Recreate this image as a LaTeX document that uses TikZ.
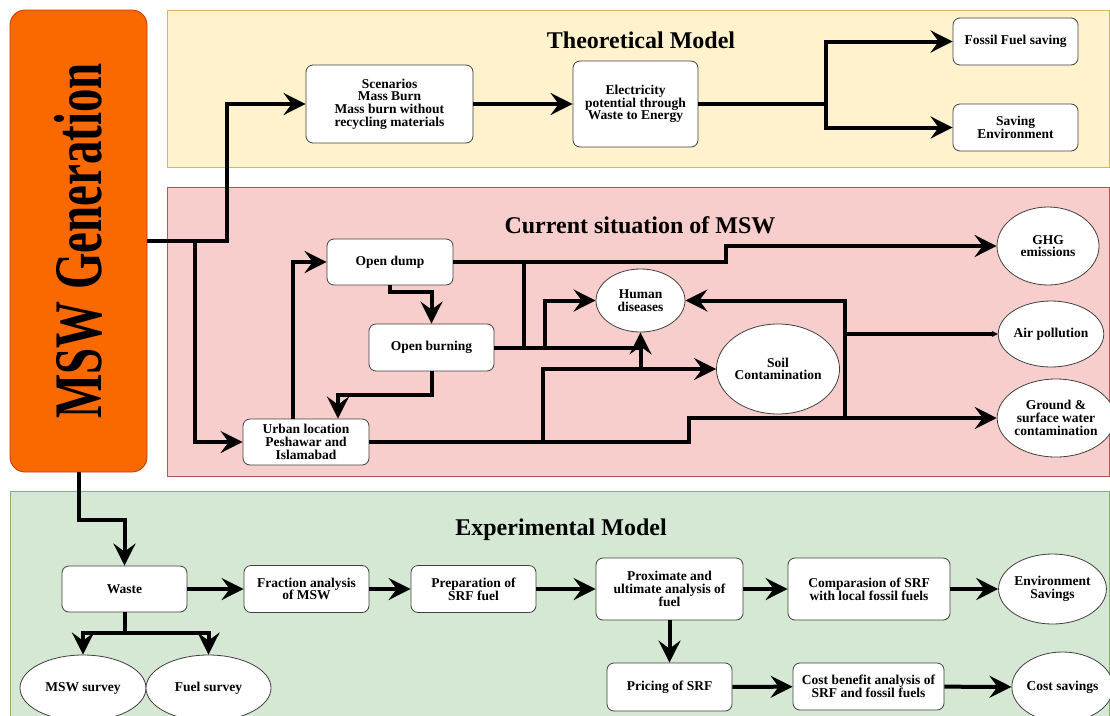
\documentclass[tikz,border=0pt]{standalone}
\usepackage{fontspec}
\setmainfont{Liberation Serif}[BoldFont={Liberation Serif Bold}]
\usetikzlibrary{arrows.meta,shapes.geometric}

\definecolor{mswfill}{HTML}{FA6800}
\definecolor{mswline}{HTML}{C73500}
\definecolor{theofill}{HTML}{FFF2CC}
\definecolor{theoline}{HTML}{D6B656}
\definecolor{curfill}{HTML}{F8CECC}
\definecolor{curline}{HTML}{B85450}
\definecolor{expfill}{HTML}{D5E8D4}
\definecolor{expline}{HTML}{82B366}

\begin{document}
\begin{tikzpicture}[x=1pt,y=-1pt,>={Stealth[length=22pt,width=22pt,inset=8pt]},
  box/.style={draw=black!75,fill=white,rounded corners=7pt,line width=0.8pt,align=center,inner sep=1pt,font=\bfseries\fontsize{13.5}{12.7}\selectfont},
  blob/.style={ellipse,draw=black!75,fill=white,line width=0.8pt,align=center,inner sep=0pt,font=\bfseries\fontsize{13.5}{12.7}\selectfont},
  link/.style={line width=4pt},
  heading/.style={font=\bfseries\fontsize{24}{26}\selectfont}]
\useasboundingbox (0,0) rectangle (1110,715);

\draw[line width=0.8pt,fill=theofill,draw=theoline] (167,10) rectangle (1109,167);
\draw[line width=0.8pt,fill=curfill,draw=curline] (167,187) rectangle (1109,476);
\draw[line width=0.8pt,fill=expfill,draw=expline] (10,491) rectangle (1109,725);

\node[heading] (theotitle) at (641,40) {Theoretical Model};
\node[heading] (curtitle) at (640,225) {Current situation of MSW};
\node[heading] (exptitle) at (561,530) {Experimental Model};

\node[draw=mswline,fill=mswfill,rounded corners=15pt,line width=0.8pt,minimum width=137pt,minimum height=462pt] (msw) at (78.5,241)
  {\rotatebox{90}{\scalebox{0.69}[1]{\bfseries\fontsize{68}{70}\selectfont MSW Generation}}};

\node[box,minimum width=167pt,minimum height=78pt] (scen) at (389.5,104) {Scenarios\\Mass Burn\\Mass burn without\\recycling materials};
\node[box,minimum width=125pt,minimum height=86pt] (elec) at (635.5,104) {Electricity\\potential through\\Waste to Energy};
\node[box,minimum width=125pt,minimum height=47pt] (fossil) at (1015.5,41.5) {Fossil Fuel saving};
\node[box,minimum width=125pt,minimum height=47pt] (savenv) at (1015.5,127.5) {Saving\\Environment};

\node[box,minimum width=126pt,minimum height=46pt] (dump) at (390,262) {Open dump};
\node[box,minimum width=125pt,minimum height=47pt] (burn) at (431.5,347.5) {Open burning};
\node[box,minimum width=126pt,minimum height=46pt] (urban) at (306,442) {Urban location\\Peshawar and\\Islamabad};
\node[blob,minimum width=102pt,minimum height=78pt] (ghg) at (1048,246) {GHG\\emissions};
\node[blob,minimum width=89pt,minimum height=63pt] (human) at (640.5,300.5) {Human\\diseases};
\node[blob,minimum width=94pt,minimum height=66pt] (air) at (1051,334) {Air pollution};
\node[blob,minimum width=120pt,minimum height=90pt] (soil) at (778,369) {Soil\\Contamination};
\node[blob,minimum width=105pt,minimum height=78pt] (ground) at (1056,418) {Ground \&\\surface water\\contamination};

\node[box,minimum width=125pt,minimum height=46pt] (waste) at (124.5,589) {Waste};
\node[box,minimum width=125pt,minimum height=47pt] (frac) at (306.5,589) {Fraction analysis\\of MSW};
\node[box,minimum width=125pt,minimum height=47pt] (prep) at (473.5,589) {Preparation of\\SRF fuel};
\node[box,minimum width=147pt,minimum height=62pt] (prox) at (669.5,589) {Proximate and\\ultimate analysis of\\fuel};
\node[box,minimum width=162pt,minimum height=62pt] (comp) at (869,589) {Comparasion of SRF\\with local fossil fuels};
\node[blob,minimum width=95pt,minimum height=70pt] (envsav) at (1052.5,589) {Environment\\Savings};
\node[box,minimum width=125pt,minimum height=48pt] (price) at (669.5,687) {Pricing of SRF};
\node[box,minimum width=151pt,minimum height=47pt] (cost) at (868.5,686.5) {Cost benefit analysis of\\SRF and fossil fuels};
\node[blob,minimum width=93pt,minimum height=70pt] (costsav) at (1062.5,687) {Cost savings};
\node[blob,minimum width=126pt,minimum height=66pt] (mswsurvey) at (83,688) {MSW survey};
\node[blob,minimum width=125pt,minimum height=66pt] (fuelsurvey) at (208.5,688) {Fuel survey};

\draw[link,->] (msw.east) -- ++(80,0) |- (scen.west);
\draw[link,->] (msw.east) -- ++(48,0) |- (urban.west);
\draw[link,->] (scen) -- (elec);
\draw[link] (elec.east) -- ++(128,0) coordinate (tjoin);
\draw[link,->] (tjoin) |- (fossil.west);
\draw[link,->] (tjoin) |- (savenv.west);

\draw[link,->] ([xshift=-13pt]urban.north) |- (dump.west);
\draw[link,->] (dump.south) -- ++(0,7) -| (burn.north);
\draw[link,->] (burn.south) -- ++(0,24) -| ([xshift=32pt]urban.north);
\draw[link,->] (dump.east) -- ++(273,0) |- (ghg.west);
\draw[link] ([xshift=71pt]dump.east) -- ++(0,85.5);
\draw[link] (burn.east) -- (human.south |- burn.east);
\draw[link,->] ([xshift=51pt]burn.east) |- (human.west);
\draw[link,->] (urban.east) -- ++(174,0) |- (soil.west);
\draw[link,->] (human.south |- soil.west) -- (human.south);
\draw[link,->] (urban.east) -- ++(320,0) |- (ground.west);
\coordinate (gjoin) at (845,418);
\draw[link,->] (gjoin) |- (human.east);
\draw[link,-{Stealth[length=6pt,width=6pt]}] (gjoin |- air.west) -- (air.west);

\draw[link,->] (msw.south) -- ++(0,48) -| (waste.north);
\draw[link] (waste.south) -- ++(0,21) coordinate (wjoin);
\draw[link,->] (wjoin) -| (mswsurvey.north);
\draw[link,->] (wjoin) -| (fuelsurvey.north);
\draw[link,->] (waste) -- (frac);
\draw[link,->] (frac) -- (prep);
\draw[link,->] (prep) -- (prox);
\draw[link,->] (prox) -- (comp);
\draw[link,->] (comp) -- (envsav);
\draw[link,->] (prox) -- (price);
\draw[link,->] (price) -- (cost);
\draw[link,->] (cost) -- (costsav);
\end{tikzpicture}
\end{document}
